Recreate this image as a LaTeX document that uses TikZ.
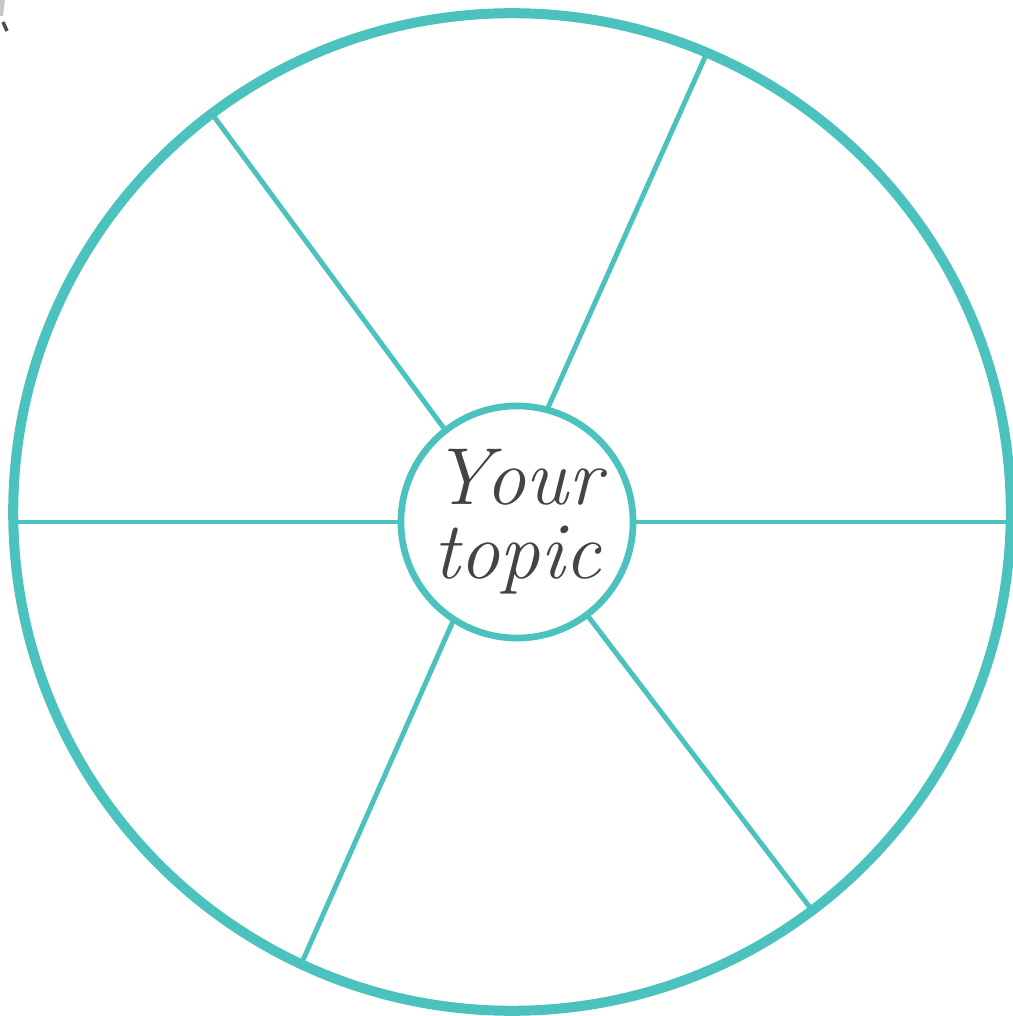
\documentclass[tikz,border=0pt]{standalone}
\usepackage{fontspec}
\usepackage{tikz}
\usetikzlibrary{positioning}
\definecolor{wheelteal}{HTML}{4CC2BE}
\definecolor{inkgray}{HTML}{444444}
\tikzset{
    % Wheel styles
    rim/.style={circle, draw=wheelteal, line width=2.85pt, outer sep=0pt, inner sep=0pt},
    hub/.style={circle, draw=wheelteal, line width=1.9pt, outer sep=0pt, inner sep=0pt,
                fill=white, align=center, text=inkgray},
    spoke/.style={draw=wheelteal, line width=1.4pt},
}

\begin{document}
\begin{tikzpicture}[x=0.01cm, y=-0.01cm]
    \useasboundingbox (0,0) rectangle (1013,1016);

    % Rim and hub
    \node[rim, minimum size=9.97cm] (wheel) at (512,512) {};
    \node[hub, minimum size=2.32cm, font=\fontsize{23}{21}\selectfont\itshape]
        (topic) at (517,522) {Your\\topic};

    % Spokes
    \draw[spoke] (topic.0) -- (topic.0 -| wheel.east);
    \draw[spoke] (topic.180) -- (topic.180 -| wheel.west);
    \foreach \a/\b in {75.9/67.8, 128.2/127.7, 237.8/245.7, 307.4/307.2} {
        \draw[spoke] (topic.\a) -- (wheel.\b);
    }

    % Corner mark
    \fill[gray!45] (0,0) -- (5,0) -- (3,16) -- (0,16) -- cycle;
    \draw[gray!60!black, line width=1pt] (3,22) -- (7,31);
\end{tikzpicture}
\end{document}
